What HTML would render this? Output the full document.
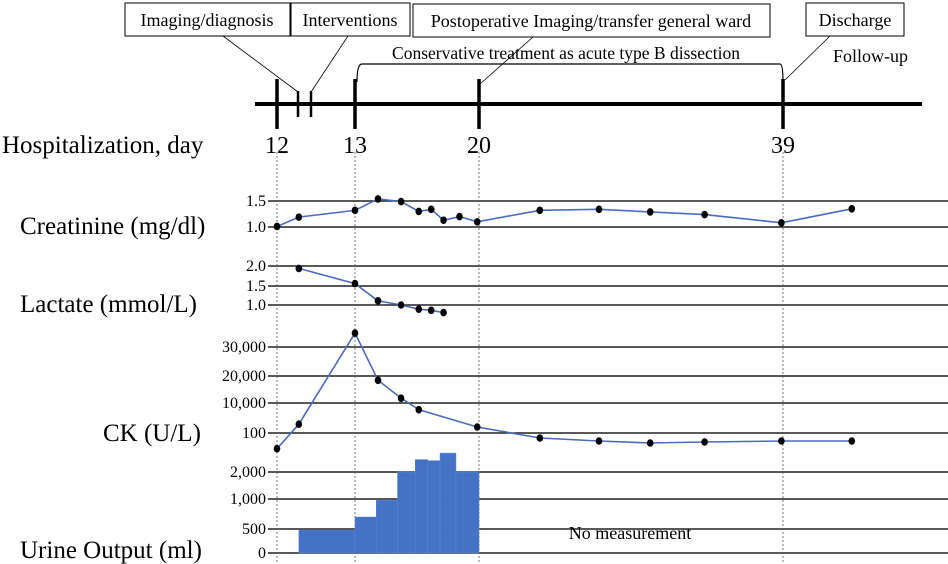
<!DOCTYPE html>
<html><head><meta charset="utf-8"><style>
body{margin:0;background:#fff;}
svg{display:block;font-family:"Liberation Serif",serif;}
</style></head><body>
<svg id="chart" width="948" height="564" viewBox="0 0 948 564" xmlns="http://www.w3.org/2000/svg">
<g id="timeline">
<rect x="125" y="3" width="165" height="33" fill="#fff" stroke="#000"/>
<text x="207" y="26" font-size="18" text-anchor="middle">Imaging/diagnosis</text>
<rect x="291" y="3" width="119" height="33" fill="#fff" stroke="#000"/>
<text x="350" y="26" font-size="18" text-anchor="middle">Interventions</text>
<rect x="413" y="4" width="357" height="33" fill="#fff" stroke="#000"/>
<text x="591" y="27" font-size="18" text-anchor="middle">Postoperative Imaging/transfer general ward</text>
<rect x="806" y="3" width="98" height="33" fill="#fff" stroke="#000"/>
<text x="855" y="26" font-size="18" text-anchor="middle">Discharge</text>
<g stroke="#000" stroke-width="0.8">
<line x1="223" y1="36" x2="298" y2="92"/><line x1="348" y1="36" x2="311" y2="92"/>
<line x1="533" y1="37" x2="480" y2="84"/><line x1="830" y1="36" x2="785" y2="80"/>
</g>
<path d="M357 82 Q357 64 362 64 L780 64 Q783 64 783 82" fill="none" stroke="#000" stroke-width="1.2"/>
<text x="566" y="59" font-size="17.5" text-anchor="middle">Conservative treatment as acute type B dissection</text>
<text x="833" y="62" font-size="18">Follow-up</text>
<line x1="255" y1="104" x2="922" y2="104" stroke="#000" stroke-width="4"/>
<g stroke="#000" stroke-width="3.5">
<line x1="277" y1="79" x2="277" y2="129"/><line x1="355" y1="79" x2="355" y2="129"/>
<line x1="479" y1="79" x2="479" y2="129"/><line x1="783" y1="79" x2="783" y2="129"/>
<line x1="298" y1="91" x2="298" y2="117" stroke-width="2.5"/><line x1="311" y1="91" x2="311" y2="117" stroke-width="2.5"/>
</g>
<text x="2" y="153" font-size="25">Hospitalization, day</text>
<g font-size="24" text-anchor="middle">
<text x="277" y="153">12</text>
<text x="355" y="153">13</text>
<text x="479" y="153">20</text>
<text x="783" y="153">39</text>
</g>
</g>
<g id="grid"></g>
<g id="guides"></g>
<g id="marks"></g>
<g font-size="25">
<text x="20" y="234">Creatinine (mg/dl)</text>
<text x="20" y="312">Lactate (mmol/L)</text>
<text x="103" y="441">CK (U/L)</text>
<text x="20" y="558">Urine Output (ml)</text>
</g>
<text x="630" y="539" font-size="18" text-anchor="middle">No measurement</text>
</svg>
<script>
// x axis: hospitalization day
const dayTicks = [12, 13, 20, 39];
// creatinine
const creatDays = [12, 12.28, 13, 14.3, 15.6, 16.6, 17.3, 18.0, 18.9, 19.9, 23.8, 27.5, 30.7, 34.1, 38.9, 43.3];
const creatValues = [1.01, 1.19, 1.32, 1.54, 1.49, 1.30, 1.34, 1.13, 1.20, 1.10, 1.32, 1.34, 1.29, 1.24, 1.08, 1.35];
const creatTicks = [1.0, 1.5];
// lactate
const lacDays = [12.28, 13, 14.3, 15.6, 16.6, 17.3, 18.0];
const lacValues = [1.94, 1.56, 1.11, 1.0, 0.89, 0.86, 0.80];
const lacTicks = [1.0, 1.5, 2.0];
// CK
const ckDays = [12, 12.28, 13, 14.3, 15.6, 16.6, 19.9, 23.8, 27.5, 30.7, 34.1, 38.9, 43.3];
const ckValues = [53, 3000, 34800, 18400, 11800, 7800, 2080, 85, 76, 70, 73, 76, 76];
const ckTicks = [100, 10000, 20000, 30000];
const ckTickLabels = ["100", "10,000", "20,000", "30,000"];
// urine output (step bars)
const urineStart = [12.28, 13, 14.2, 15.4, 16.4, 17.1, 17.8, 18.7];
const urineEnd = [13, 14.2, 15.4, 16.4, 17.1, 17.8, 18.7, 20];
const urineValues = [480, 700, 980, 2000, 2460, 2420, 2700, 2000];
const urineTicks = [0, 500, 1000, 2000];
const urineTickLabels = ["0", "500", "1,000", "2,000"];

const NS = "http://www.w3.org/2000/svg";
function mk(parent, tag, attrs) { const e = document.createElementNS(NS, tag); for (const k in attrs) e.setAttribute(k, attrs[k]); parent.appendChild(e); return e; }
function piecewise(dom, rng) {
  return function (v) {
    let i = 0;
    if (v <= dom[0]) i = 0; else if (v >= dom[dom.length - 1]) i = dom.length - 2;
    else { while (v > dom[i + 1]) i++; }
    const t = (v - dom[i]) / (dom[i + 1] - dom[i]);
    return rng[i] + t * (rng[i + 1] - rng[i]);
  };
}
const x = piecewise(dayTicks, [277, 355, 479, 783]);
const yCreat = piecewise(creatTicks, [227, 201]);
const yLac = piecewise(lacTicks, [305, 286, 266]);
const yCk = piecewise([10].concat(ckTicks), [463, 433, 403, 376, 347]);
const yUr = piecewise(urineTicks, [553, 529, 499, 472]);

const grid = document.getElementById('grid');
const marks = document.getElementById('marks');
const guides = document.getElementById('guides');
function axis(ticks, labels, yf, name) {
  ticks.forEach((t, i) => {
    const y = yf(t);
    const l = mk(grid, 'line', { x1: 268, x2: 948, y1: y, y2: y, stroke: '#222', 'stroke-width': 1.4 });
    
    
    const tx = mk(grid, 'text', { x: 266, y: y + 5, 'font-size': 16, 'text-anchor': 'end' });
    tx.textContent = labels[i];
    
    
  });
}
axis(creatTicks, creatTicks.map(v => v.toFixed(1)), yCreat, 'creatinine');
axis(lacTicks, lacTicks.map(v => v.toFixed(1)), yLac, 'lactate');
axis(ckTicks, ckTickLabels, yCk, 'ck');
axis(urineTicks, urineTickLabels, yUr, 'urine');

urineValues.forEach((v, i) => {
  const r = mk(marks, 'rect', { x: x(urineStart[i]), y: yUr(v), width: x(urineEnd[i]) - x(urineStart[i]), height: yUr(0) - yUr(v), fill: '#4472c4', stroke: '#5a86d0', 'stroke-width': 0.5 });
  
  
});

dayTicks.forEach(d => {
  const l = mk(guides, 'line', { x1: x(d), x2: x(d), y1: 152, y2: 564, stroke: '#555', 'stroke-width': 0.8, 'stroke-dasharray': '2,2' });
  
  
});

function series(days, vals, yf, name) {
  const pts = days.map((d, i) => x(d) + ',' + yf(vals[i])).join(' ');
  const pl = mk(marks, 'polyline', { points: pts, fill: 'none', stroke: '#4a6cc0', 'stroke-width': 1.6 });
  
  
  days.forEach((d, i) => {
    const c = mk(marks, 'ellipse', { cx: x(d), cy: yf(vals[i]), rx: 3.3, ry: 3.8, fill: '#000' });
    
    
  });
}
series(creatDays, creatValues, yCreat, 'creatinine');
series(lacDays, lacValues, yLac, 'lactate');
series(ckDays, ckValues, yCk, 'ck');
</script>
</body></html>
